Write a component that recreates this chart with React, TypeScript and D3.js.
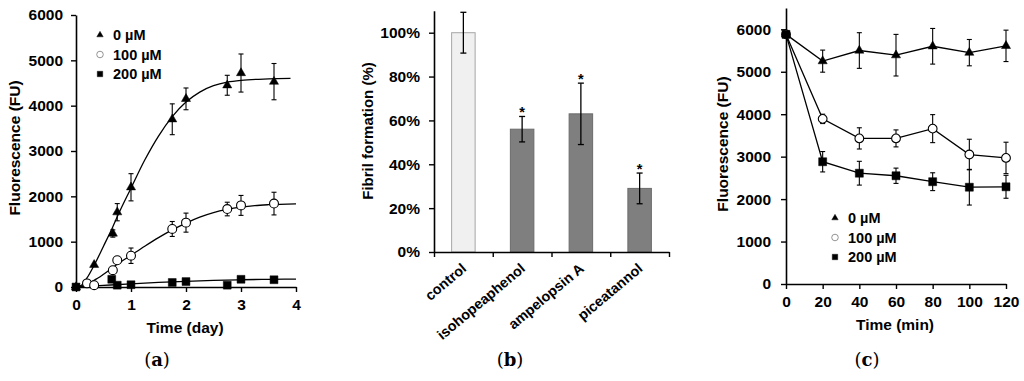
import React, { useEffect, useRef } from 'react';
import * as d3 from 'd3';

// (a) thioflavin fluorescence over days
const dayTicks = [0, 1, 2, 3, 4];
const fluorTicks = [0, 1000, 2000, 3000, 4000, 5000, 6000];
const days0 = [0, 0.33, 0.67, 0.75, 1, 1.75, 2, 2.75, 3, 3.6];
const fluorA0 = [0, 490, 1180, 1650, 2200, 3700, 4150, 4450, 4720, 4530];
const errA0 = [0, 0, 80, 190, 300, 340, 240, 220, 420, 400];
const days100 = [0.2, 0.33, 0.67, 0.75, 1, 1.75, 2, 2.75, 3, 3.6];
const fluorA100 = [80, 40, 370, 590, 690, 1280, 1420, 1720, 1800, 1840];
const errA100 = [0, 0, 0, 0, 170, 165, 210, 150, 220, 250];
const days200 = [0, 0.65, 0.75, 1, 1.75, 2, 2.75, 3, 3.6];
const fluorA200 = [0, 170, 40, 50, 100, 120, 40, 170, 160];

// fitted curves
const fitDays0 = [0, 0.1, 0.2, 0.33, 0.5, 0.67, 0.75, 1, 1.25, 1.5, 1.75, 2, 2.25, 2.5, 2.75, 3, 3.5, 3.9];
const fit0 = [0, 40, 200, 480, 900, 1330, 1550, 2180, 2800, 3330, 3760, 4080, 4300, 4440, 4520, 4560, 4590, 4600];
const fitDays100 = [0, 0.2, 0.4, 0.67, 0.75, 1, 1.25, 1.5, 1.75, 2, 2.25, 2.5, 2.75, 3, 3.25, 3.5, 4];
const fit100 = [0, 60, 200, 430, 500, 700, 900, 1090, 1260, 1410, 1540, 1640, 1710, 1760, 1795, 1815, 1835];
const fitDays200 = [0, 0.5, 1, 1.5, 2, 2.5, 3, 3.5, 4];
const fit200 = [0, 35, 70, 100, 125, 145, 160, 170, 175];

// (b) fibril formation
const compounds = ['control', 'isohopeaphenol', 'ampelopsin A', 'piceatannol'];
const fibril = [1.0, 0.56, 0.63, 0.29];
const fibrilErr = [0.093, 0.058, 0.14, 0.07];
const significant = [false, true, true, true];
const pctTicks = [0, 0.2, 0.4, 0.6, 0.8, 1.0];

// (c) fluorescence over minutes
const minTicks = [0, 20, 40, 60, 80, 100, 120];
const minutes = [0, 20, 40, 60, 80, 100, 120];
const fluorC0 = [5880, 5250, 5500, 5390, 5600, 5450, 5610];
const errC0 = [0, 260, 420, 490, 420, 310, 370];
const fluorC100 = [5880, 3890, 3430, 3430, 3660, 3050, 2970];
const errC100 = [0, 110, 250, 200, 330, 360, 370];
const fluorC200 = [5880, 2880, 2610, 2550, 2410, 2280, 2290];
const errC200 = [0, 240, 280, 180, 210, 420, 270];

const legendLabels = ['0 \u00b5M', '100 \u00b5M', '200 \u00b5M'];
const legendKinds = ['triangle', 'circle', 'square'];

const W = 1024;
const H = 381;
const FONT = '"Liberation Sans", Arial, sans-serif';
const SERIF = '"DejaVu Serif", "Liberation Serif", serif';

type Pt = { x: number; y: number; e: number };
const zip = (xs: number[], ys: number[], es?: number[]): Pt[] =>
    xs.map((x, i) => ({ x, y: ys[i], e: es ? es[i] : 0 }));

const App: React.FC = () => {
    const svgRef = useRef<SVGSVGElement>(null);

    useEffect(() => {
        const svg = d3.select(svgRef.current);
        svg.selectAll('*').remove();
        svg.append('rect').attr('width', W).attr('height', H).attr('fill', '#fff');

        const styleAxis = (g: any) => {
            g.select('.domain').attr('stroke', '#000').attr('stroke-width', 1.6);
            g.selectAll('.tick line').attr('stroke', '#000').attr('stroke-width', 1.4);
            g.selectAll('.tick text')
                .attr('fill', '#000')
                .style('font-family', FONT)
                .style('font-size', '15.5px')
                .style('font-weight', 'bold');
        };

        const symbolPath = (kind: string, area: number) => {
            const type = kind === 'triangle' ? d3.symbolTriangle : kind === 'square' ? d3.symbolSquare : d3.symbolCircle;
            return d3.symbol().type(type).size(area)() || '';
        };

        const addMarkers = (g: any, pts: Pt[], x: any, y: any, kind: string, area: number) => {
            g.selectAll(null)
                .data(pts)
                .enter()
                .append('path')
                .attr('d', symbolPath(kind, area))
                .attr('transform', (d: Pt) => `translate(${x(d.x)},${y(d.y)})`)
                .attr('fill', kind === 'circle' ? '#fff' : '#000')
                .attr('stroke', '#000')
                .attr('stroke-width', kind === 'circle' ? 1.1 : 0.5);
        };

        const addErrors = (g: any, pts: Pt[], x: any, y: any, cap = 5) => {
            const eg = g.append('g').attr('stroke', '#000').attr('stroke-width', 1.1);
            pts.filter(d => d.e > 0).forEach(d => {
                const cx = x(d.x);
                eg.append('line').attr('x1', cx).attr('x2', cx).attr('y1', y(d.y - d.e)).attr('y2', y(d.y + d.e));
                eg.append('line').attr('x1', cx - cap / 2).attr('x2', cx + cap / 2).attr('y1', y(d.y + d.e)).attr('y2', y(d.y + d.e));
                eg.append('line').attr('x1', cx - cap / 2).attr('x2', cx + cap / 2).attr('y1', y(d.y - d.e)).attr('y2', y(d.y - d.e));
            });
        };

        const addText = (x: number, y: number, text: string, size: number, opts: any = {}) => {
            const t = svg.append('text')
                .attr('x', x)
                .attr('y', y)
                .attr('text-anchor', opts.anchor || 'middle')
                .style('font-family', FONT)
                .style('font-size', `${size}px`)
                .style('font-weight', 'bold')
                .attr('fill', '#000')
                .text(text);
            if (opts.rotate) t.attr('transform', `rotate(${opts.rotate},${x},${y})`);
            if (opts.dy) t.attr('dy', opts.dy);
            return t;
        };

        const addPanelLabel = (x: number, y: number, letter: string) => {
            const t = svg.append('text')
                .attr('x', x)
                .attr('y', y)
                .attr('text-anchor', 'middle')
                .style('font-family', SERIF)
                .style('font-size', '18px')
                .attr('fill', '#000');
            t.append('tspan').text('(');
            t.append('tspan').style('font-weight', 'bold').text(letter);
            t.append('tspan').text(')');
        };

        const addLegend = (x0: number, y0: number, gap: number) => {
            const lg = svg.append('g');
            legendLabels.forEach((lab, i) => {
                const kind = legendKinds[i];
                lg.append('path')
                    .attr('d', symbolPath(kind, kind === 'triangle' ? 18 : kind === 'square' ? 30 : 34))
                    .attr('transform', `translate(${x0},${y0 + i * gap})`)
                    .attr('fill', kind === 'circle' ? '#fff' : '#000')
                    .attr('stroke', kind === 'circle' ? '#888' : '#000')
                    .attr('stroke-width', kind === 'circle' ? 0.9 : 0.4);
                lg.append('text')
                    .attr('x', x0 + 13)
                    .attr('y', y0 + i * gap)
                    .attr('dy', '0.36em')
                    .style('font-family', FONT)
                    .style('font-size', '14.5px')
                    .style('font-weight', 'bold')
                    .attr('fill', '#000')
                    .text(lab);
            });
        };

        // ---------- (a) ----------
        const xa = d3.scaleLinear().domain([0, 4]).range([76, 296]);
        const ya = d3.scaleLinear().domain([0, 6000]).range([287, 15]);
        const ga = svg.append('g');

        ga.append('g')
            .attr('transform', `translate(0,${ya(0)})`)
            .call(d3.axisBottom(xa).tickValues(dayTicks).tickSize(5).tickSizeOuter(0).tickPadding(7).tickFormat(d3.format('d')))
            .call(styleAxis);
        ga.append('g')
            .attr('transform', `translate(${xa(0)},0)`)
            .call(d3.axisLeft(ya).tickValues(fluorTicks).tickSize(5).tickSizeOuter(0).tickPadding(8).tickFormat(d3.format('d')))
            .call(styleAxis);

        const lineA = d3.line<Pt>().x(d => xa(d.x)).y(d => ya(d.y)).curve(d3.curveMonotoneX);
        [zip(fitDays0, fit0), zip(fitDays100, fit100), zip(fitDays200, fit200)].forEach(pts => {
            ga.append('path').attr('d', lineA(pts)).attr('fill', 'none').attr('stroke', '#000').attr('stroke-width', 1.3);
        });

        const a0 = zip(days0, fluorA0, errA0);
        const a100 = zip(days100, fluorA100, errA100);
        const a200 = zip(days200, fluorA200);
        addErrors(ga, a0, xa, ya);
        addErrors(ga, a100, xa, ya);
        addMarkers(ga, a0, xa, ya, 'triangle', 36);
        addMarkers(ga, a100, xa, ya, 'circle', 62);
        addMarkers(ga, a200, xa, ya, 'square', 62);

        addLegend(100, 35, 19.5);
        addText(185, 333, 'Time (day)', 15.5);
        addText(15, 148, 'Fluorescence (FU)', 15.5, { rotate: -90, dy: '0.35em' });
        addPanelLabel(157, 366, 'a');

        // ---------- (b) ----------
        const xb = d3.scaleBand<string>().domain(compounds).range([434, 669]).paddingInner(0.6).paddingOuter(0.3);
        const xbTicks = d3.scaleLinear().domain([0, compounds.length]).range([434, 669]);
        const yb = d3.scaleLinear().domain([0, 1.1]).range([252, 252 - 1.1 * 219.3]);
        const gb = svg.append('g');

        const bars = compounds.map((c, i) => ({ c, v: fibril[i], e: fibrilErr[i], s: significant[i], i }));
        gb.selectAll(null)
            .data(bars)
            .enter()
            .append('rect')
            .attr('x', d => xb(d.c)!)
            .attr('width', xb.bandwidth())
            .attr('y', d => yb(d.v))
            .attr('height', d => yb(0) - yb(d.v))
            .attr('fill', d => (d.i === 0 ? '#f0f0f0' : '#7f7f7f'))
            .attr('stroke', d => (d.i === 0 ? '#a6a6a6' : '#6b6b6b'))
            .attr('stroke-width', 1);

        gb.append('g')
            .attr('transform', `translate(0,${yb(0)})`)
            .call(d3.axisBottom(xbTicks).ticks(4).tickSize(5).tickSizeOuter(0).tickFormat(() => ''))
            .call(styleAxis);
        gb.append('g')
            .attr('transform', `translate(${xbTicks(0)},0)`)
            .call(d3.axisLeft(yb).tickValues(pctTicks).tickSize(5).tickSizeOuter(0).tickPadding(9).tickFormat(d3.format('.0%')))
            .call(styleAxis);

        const eb = gb.append('g').attr('stroke', '#000').attr('stroke-width', 1.3);
        bars.forEach(d => {
            const cx = xb(d.c)! + xb.bandwidth() / 2;
            eb.append('line').attr('x1', cx).attr('x2', cx).attr('y1', yb(d.v - d.e)).attr('y2', yb(d.v + d.e));
            [d.v - d.e, d.v + d.e].forEach(v => {
                eb.append('line').attr('x1', cx - 3).attr('x2', cx + 3).attr('y1', yb(v)).attr('y2', yb(v));
            });
            if (d.s) addText(cx, yb(d.v + d.e) + 1, '*', 14.5);
            addText(cx + 4, 270, d.c, 14.3, { anchor: 'end', rotate: -40 });
        });

        addText(368, 131, 'Fibril formation (%)', 15, { rotate: -90, dy: '0.35em' });
        addPanelLabel(510, 366, 'b');

        // ---------- (c) ----------
        const xc = d3.scaleLinear().domain([0, 120]).range([786, 1006]);
        const yc = d3.scaleLinear().domain([0, 6500]).range([284, 284 - 6500 * 0.04245]);
        const gc = svg.append('g');

        gc.append('g')
            .attr('transform', `translate(0,${yc(0)})`)
            .call(d3.axisBottom(xc).tickValues(minTicks).tickSize(5).tickSizeOuter(0).tickPadding(7).tickFormat(d3.format('d')))
            .call(styleAxis);
        gc.append('g')
            .attr('transform', `translate(${xc(0)},0)`)
            .call(d3.axisLeft(yc).tickValues(fluorTicks).tickSize(5).tickSizeOuter(0).tickPadding(10).tickFormat(d3.format('d')))
            .call(styleAxis);

        const c0 = zip(minutes, fluorC0, errC0);
        const c100 = zip(minutes, fluorC100, errC100);
        const c200 = zip(minutes, fluorC200, errC200);
        const lineC = d3.line<Pt>().x(d => xc(d.x)).y(d => yc(d.y));
        [c0, c100, c200].forEach(pts => {
            gc.append('path').attr('d', lineC(pts)).attr('fill', 'none').attr('stroke', '#000').attr('stroke-width', 1.3);
        });
        [c0, c100, c200].forEach(pts => addErrors(gc, pts, xc, yc, 5));
        addMarkers(gc, c0, xc, yc, 'triangle', 36);
        addMarkers(gc, c100, xc, yc, 'circle', 60);
        addMarkers(gc, c200, xc, yc, 'square', 64);

        addLegend(835, 218, 19.5);
        addText(895, 330, 'Time (min)', 15.5);
        addText(723, 144, 'Fluorescence (FU)', 15.5, { rotate: -90, dy: '0.35em' });
        addPanelLabel(867, 366, 'c');
    }, []);

    return (
        <svg
            ref={svgRef}
            width={W}
            height={H}
            style={{ position: 'absolute', left: 0, top: 0, display: 'block' }}
        />
    );
};

export default App;
